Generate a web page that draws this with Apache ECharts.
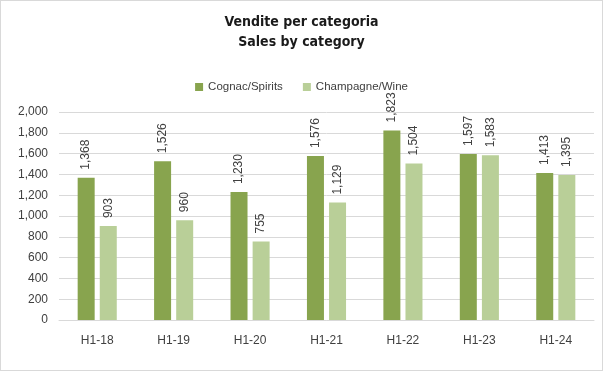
<!DOCTYPE html>
<html><head><meta charset="utf-8">
<script src="https://cdn.jsdelivr.net/npm/echarts@6/dist/echarts.min.js"></script>
<style>html,body{margin:0;padding:0;background:#fff}#c{width:601px;height:369px;border:1px solid #d9d9d9}</style>
</head><body><div id="c"></div>
<script>
const categories = ['H1-18','H1-19','H1-20','H1-21','H1-22','H1-23','H1-24'];
const cognac = [1368,1526,1230,1576,1823,1597,1413];
const champagne = [903,960,755,1129,1504,1583,1395];
const seriesNames = ['Cognac/Spirits','Champagne/Wine'];
const chart = echarts.init(document.getElementById('c'));
const lbl = {show:true, position:'top', rotate:90, align:'left', verticalAlign:'middle', distance:8,
  color:'#404040', fontFamily:'Liberation Sans, Arial', fontSize:12,
  formatter: p => p.value.toLocaleString('en-US')};
chart.setOption({
  animation:false,
  title:{text:'Vendite per categoria\nSales by category', left:'center', top:6,
    textStyle:{fontFamily:'DejaVu Sans Condensed, Liberation Sans', fontWeight:'bold', fontSize:14, color:'#1a1a1a', lineHeight:20}},
  legend:{top:75, left:'center', itemWidth:8, itemHeight:8, itemGap:20, icon:'rect',
    textStyle:{fontFamily:'Liberation Sans, Arial', fontSize:11.5, color:'#404040'}},
  grid:{left:58, right:8, top:111, bottom:50},
  xAxis:{type:'category', data:categories,
    axisLine:{lineStyle:{color:'#d9d9d9'}}, axisTick:{show:false},
    axisLabel:{color:'#404040', fontFamily:'Liberation Sans, Arial', fontSize:12, margin:15}},
  yAxis:{type:'value', min:0, max:2000, interval:200,
    axisLabel:{color:'#404040', fontFamily:'Liberation Sans, Arial', fontSize:12, margin:11,
      formatter: v => v.toLocaleString('en-US')},
    splitLine:{lineStyle:{color:'#d9d9d9'}}},
  series:[
    {name:seriesNames[0], type:'bar', data:cognac, barWidth:17, barGap:'30%', itemStyle:{color:'#88A44E'}, label:lbl},
    {name:seriesNames[1], type:'bar', data:champagne, barWidth:17, itemStyle:{color:'#B9CF98'}, label:lbl}
  ]
});
</script></body></html>
